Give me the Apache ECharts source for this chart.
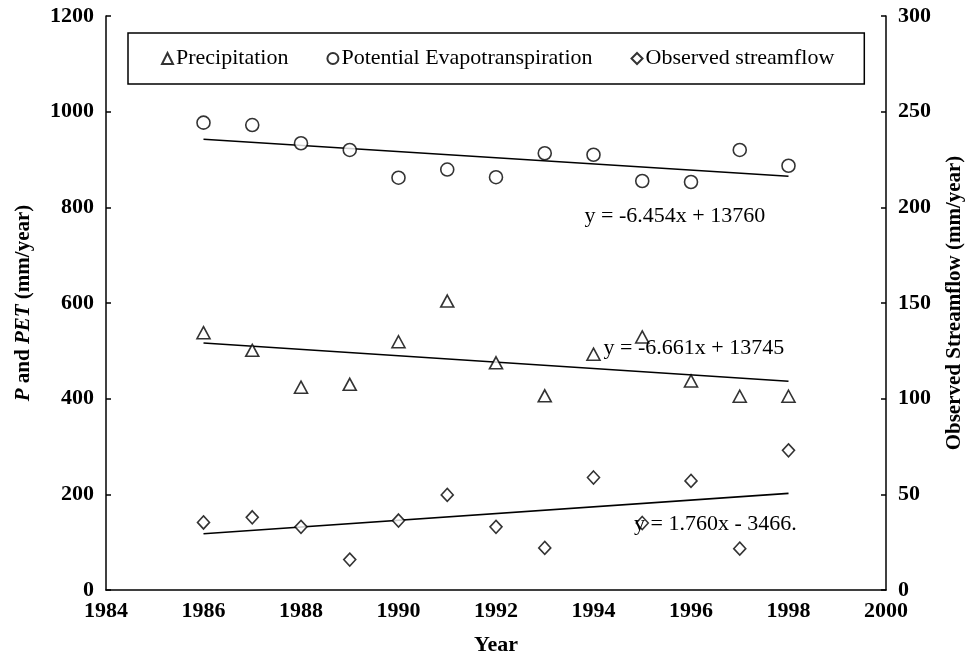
<!DOCTYPE html>
<html>
<head>
<meta charset="utf-8">
<script src="https://cdn.jsdelivr.net/npm/echarts@6/dist/echarts.min.js"></script>
<style>html,body{margin:0;padding:0;background:#fff;overflow:hidden;}#c{display:block;width:973px;height:661px;}</style>
</head>
<body>
<div id="c"></div>
<script>
var years = [1986,1987,1988,1989,1990,1991,1992,1993,1994,1995,1996,1997,1998];
var precipitation = [538,501,424,430,519,604,475,406,493,529,437,405,405];
var pet = [977,972,934,920,862,879,863,913,910,855,853,920,887];
var streamflow = [35.3,38,33,15.9,36.3,49.7,33,22,58.8,35,57,21.6,73];
var trendYears = [1986,1998];
var precipTrend = [516.3,436.4];
var petTrend = [942.4,865.0];
var flowTrend = [29.4,50.5];
var eqLabels = [
  {text:'y = -6.454x + 13760', x:1995.67, y:782},
  {text:'y = -6.661x + 13745', x:1996.06, y:506},
  {text:'y = 1.760x - 3466.', x:1996.5, y:34.3}
];
var xTicks = [1984,2000,2];
var leftTicks = [0,1200,200];
var rightTicks = [0,300,50];

var FONT = 'Liberation Serif';
function pairs(xs, ys){ return xs.map(function(x,i){return [x, ys[i]];}); }
function plain(v){ return String(v); }
var markerStyle = {color:'#fff', borderColor:'#000', borderWidth:1.6};
var trendStyle = {color:'#000', width:1.6};

var option = {
  backgroundColor:'#fff',
  animation:false,
  textStyle:{fontFamily:FONT, color:'#000'},
  grid:{left:106, right:81, top:16, bottom:67},
  legend:{
    data:['Precipitation','Potential Evapotranspiration','Observed streamflow'],
    left:128, top:33,
    padding:[13,30,13,33],
    borderColor:'#000', borderWidth:1.5,
    itemWidth:11, itemHeight:11, itemGap:38,
    textStyle:{fontFamily:FONT, fontSize:22, color:'#000', lineHeight:25, padding:[0,0,0,-2]}
  },
  xAxis:{
    type:'value', min:xTicks[0], max:xTicks[1], interval:xTicks[2],
    name:'Year', nameLocation:'middle', nameGap:44,
    nameTextStyle:{fontFamily:FONT, fontSize:22, fontWeight:'bold', color:'#000'},
    axisLine:{lineStyle:{color:'#000', width:1.5}},
    axisTick:{show:false},
    splitLine:{show:false},
    axisLabel:{fontFamily:FONT, fontSize:22, fontWeight:'bold', color:'#000', margin:10, formatter:plain}
  },
  yAxis:[{
    type:'value', min:leftTicks[0], max:leftTicks[1], interval:leftTicks[2],
    name:'{i|P} and {i|PET} (mm/year)', nameLocation:'middle', nameGap:72, nameRotate:90,
    nameTextStyle:{fontFamily:FONT, fontSize:21, fontWeight:'bold', color:'#000',
      rich:{i:{fontFamily:FONT, fontSize:21, fontWeight:'bold', fontStyle:'italic', color:'#000'}}},
    axisLine:{show:true, lineStyle:{color:'#000', width:1.5}},
    axisTick:{show:true, inside:true, length:5, lineStyle:{color:'#000', width:1.5}},
    splitLine:{show:false},
    axisLabel:{fontFamily:FONT, fontSize:22, fontWeight:'bold', color:'#000', margin:12, formatter:plain}
  },{
    type:'value', position:'right', min:rightTicks[0], max:rightTicks[1], interval:rightTicks[2],
    name:'Observed Streamflow (mm/year)', nameLocation:'middle', nameGap:58, nameRotate:90,
    nameTextStyle:{fontFamily:FONT, fontSize:21, fontWeight:'bold', color:'#000'},
    axisLine:{show:true, lineStyle:{color:'#000', width:1.5}},
    axisTick:{show:true, inside:true, length:5, lineStyle:{color:'#000', width:1.5}},
    splitLine:{show:false},
    axisLabel:{fontFamily:FONT, fontSize:22, fontWeight:'bold', color:'#000', margin:12, formatter:plain}
  }],
  series:[
    {name:'Precipitation', type:'scatter', yAxisIndex:0, symbol:'triangle', symbolSize:[13,12],
     itemStyle:markerStyle, data:pairs(years, precipitation), z:3},
    {name:'Potential Evapotranspiration', type:'scatter', yAxisIndex:0, symbol:'circle', symbolSize:13,
     itemStyle:markerStyle, data:pairs(years, pet), z:3},
    {name:'Observed streamflow', type:'scatter', yAxisIndex:1, symbol:'diamond', symbolSize:[12,13],
     itemStyle:markerStyle, data:pairs(years, streamflow), z:3},
    {name:'ptrend', type:'line', yAxisIndex:0, symbol:'none', lineStyle:trendStyle, data:pairs(trendYears, precipTrend), z:2,
     markPoint:{symbol:'circle', symbolSize:0, data:[{coord:[eqLabels[1].x, eqLabels[1].y]}],
       label:{show:true, position:'inside', formatter:eqLabels[1].text, fontFamily:FONT, fontSize:22, color:'#000'}}},
    {name:'etrend', type:'line', yAxisIndex:0, symbol:'none', lineStyle:trendStyle, data:pairs(trendYears, petTrend), z:2,
     markPoint:{symbol:'circle', symbolSize:0, data:[{coord:[eqLabels[0].x, eqLabels[0].y]}],
       label:{show:true, position:'inside', formatter:eqLabels[0].text, fontFamily:FONT, fontSize:22, color:'#000'}}},
    {name:'ftrend', type:'line', yAxisIndex:1, symbol:'none', lineStyle:trendStyle, data:pairs(trendYears, flowTrend), z:2,
     markPoint:{symbol:'circle', symbolSize:0, data:[{coord:[eqLabels[2].x, eqLabels[2].y]}],
       label:{show:true, position:'inside', formatter:eqLabels[2].text, fontFamily:FONT, fontSize:22, color:'#000'}}}
  ]
};
var chart = echarts.init(document.getElementById('c'), null, {renderer:'canvas'});
chart.setOption(option);
</script>
</body>
</html>
